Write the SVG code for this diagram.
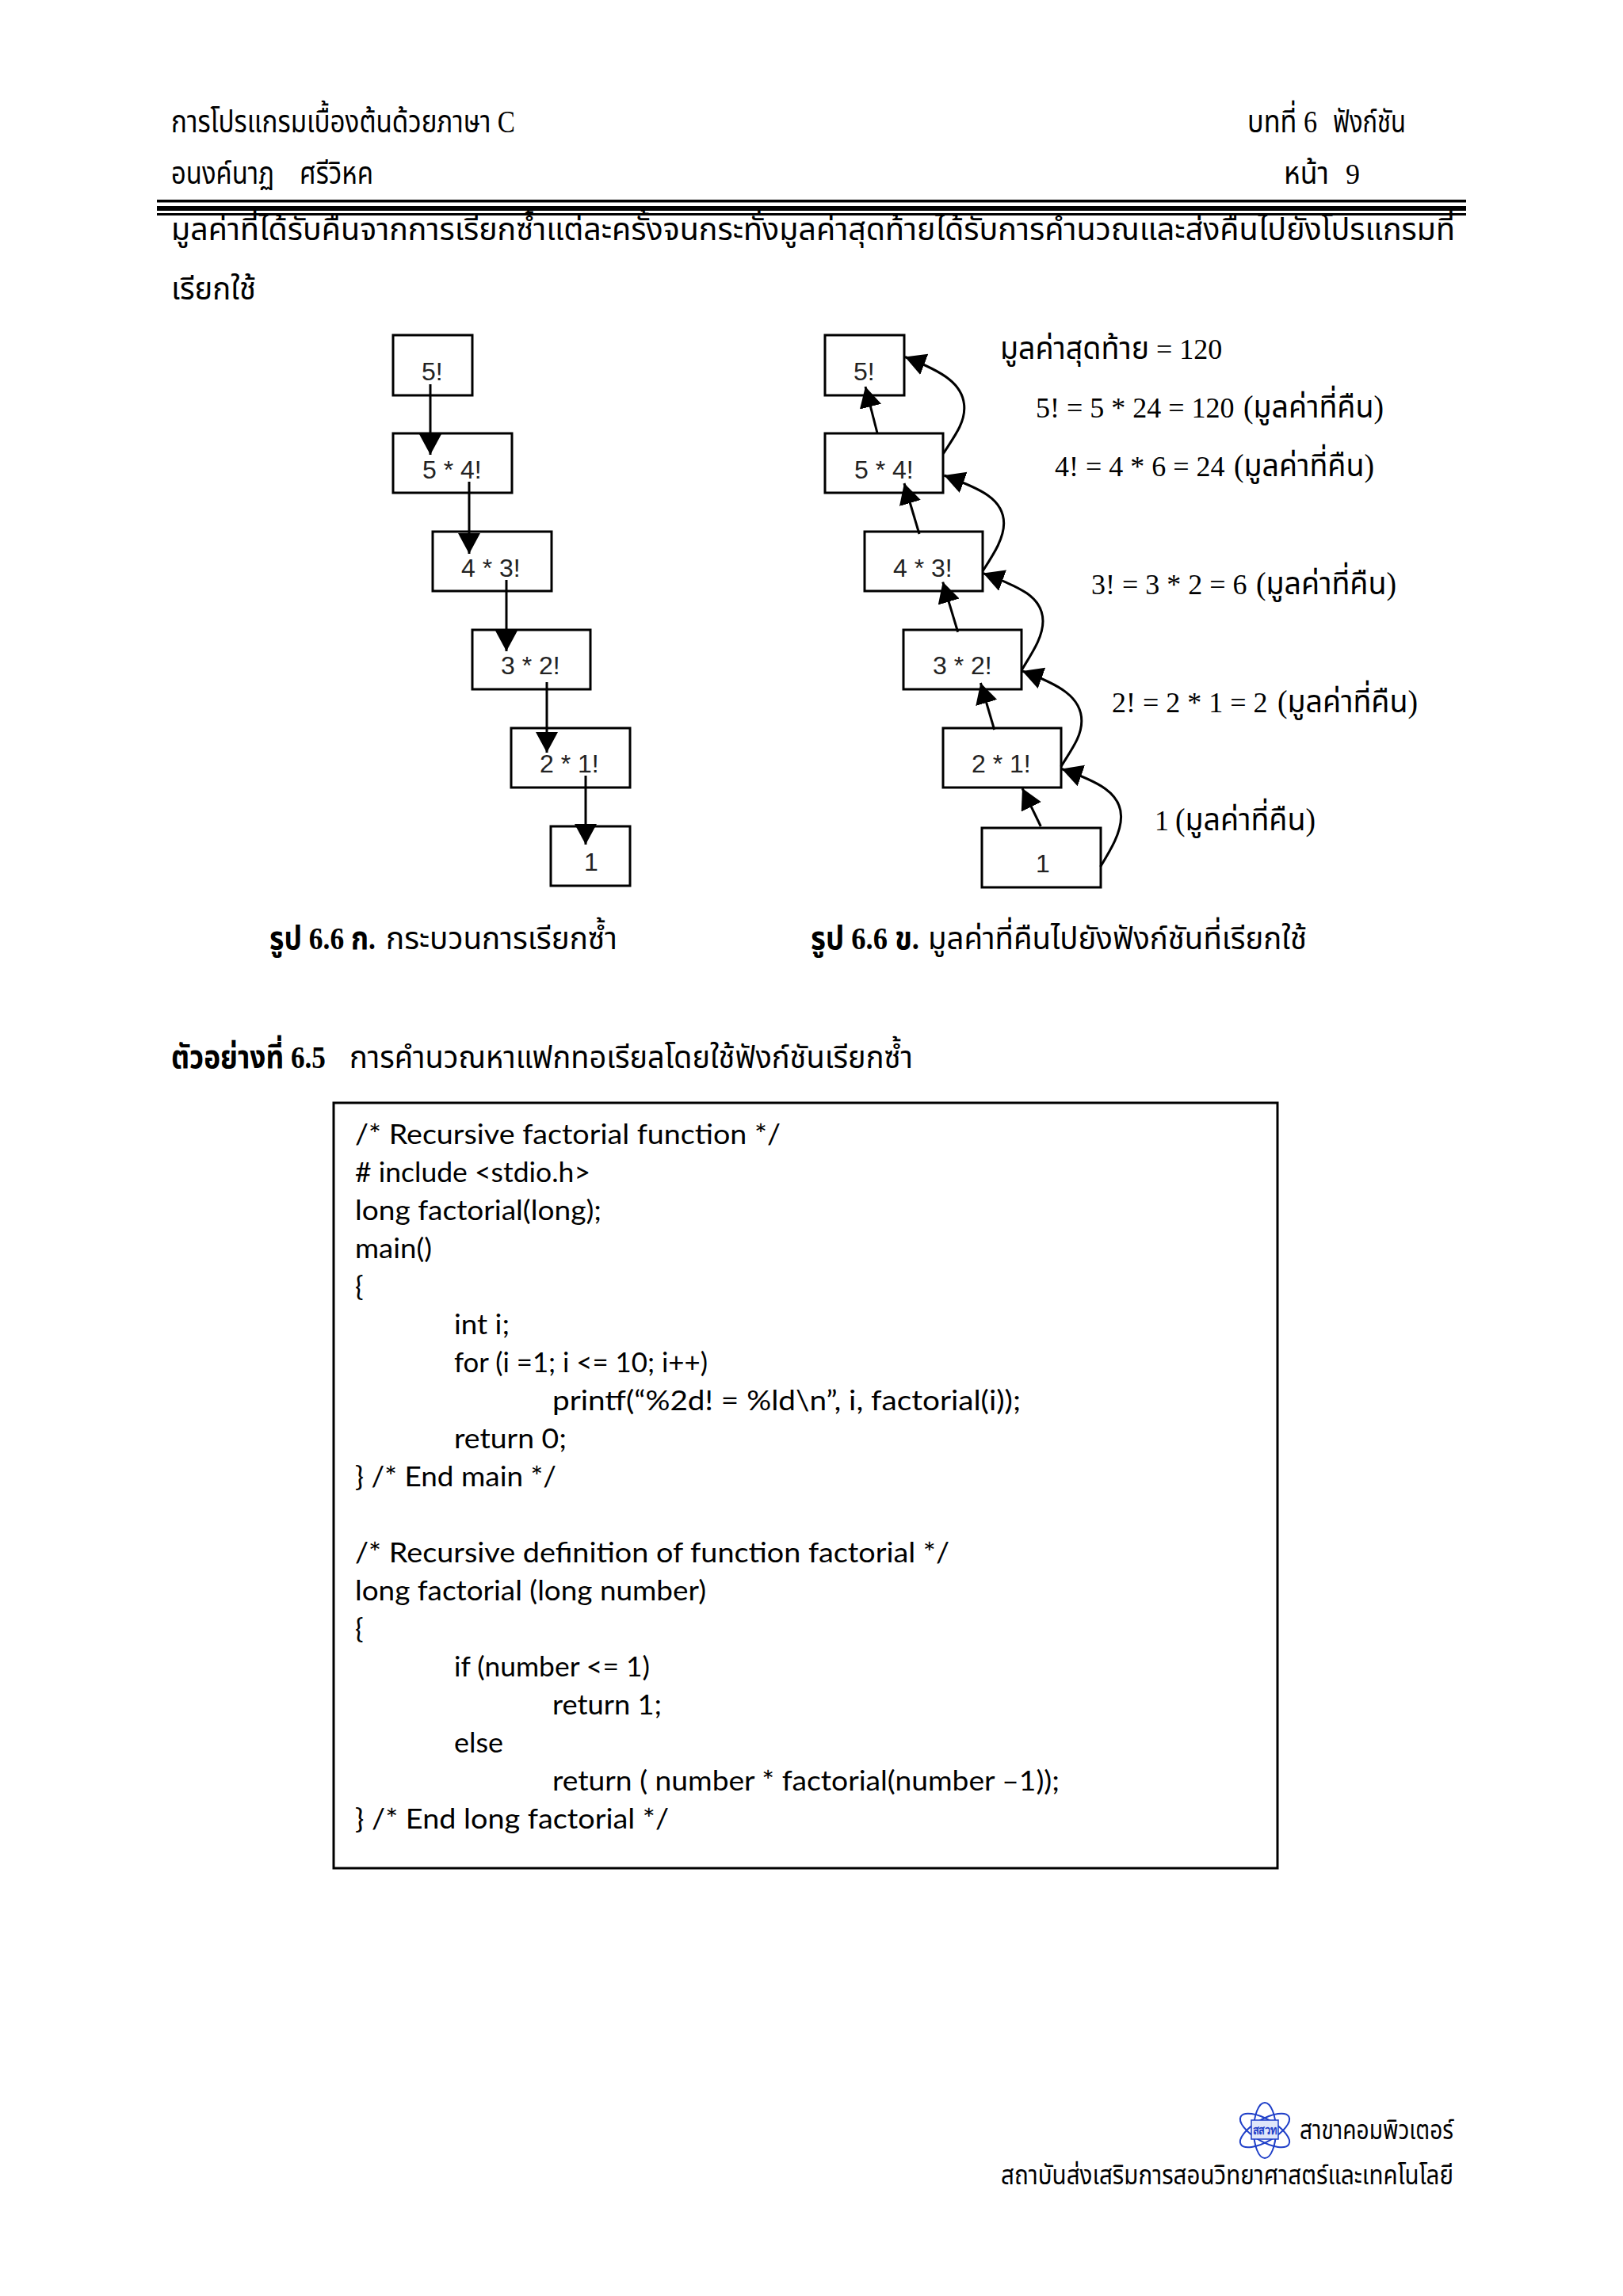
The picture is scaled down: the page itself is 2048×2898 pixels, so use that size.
<svg xmlns="http://www.w3.org/2000/svg" width="2048" height="2898" viewBox="0 0 2048 2898">
<style>
.th{font-family:"Liberation Serif","Noto Sans Thai","Noto Serif Thai","Noto Sans CJK SC",serif;font-size:40px;fill:#000}
.b{font-weight:bold}
.lt{font-size:36px}
.lb{font-family:"Liberation Sans","Noto Sans",sans-serif;font-size:32px;fill:#222}
.code{font-family:Lato,"Open Sans",sans-serif;font-size:35px;fill:#000}
.box{fill:none;stroke:#000;stroke-width:3}
.cn{fill:none;stroke:#000;stroke-width:3;marker-end:url(#ah)}
.orb{fill:none;stroke:#1f3fc8;stroke-width:2}
</style>
<defs><marker id="ah" markerUnits="userSpaceOnUse" markerWidth="30" markerHeight="30" refX="26" refY="14" orient="auto"><path d="M0 0L26 14L0 28Z" fill="#000"/></marker></defs>
<rect width="2048" height="2898" fill="#fff"/>
<g id="header">
<text class="th" x="216" y="167" textLength="434" lengthAdjust="spacingAndGlyphs">การโปรแกรมเบื้องต้นด้วยภาษา C</text>
<text class="th" y="167"><tspan x="1574" textLength="88" lengthAdjust="spacingAndGlyphs">บทที่ 6</tspan> <tspan x="1682" textLength="92" lengthAdjust="spacingAndGlyphs">ฟังก์ชัน</tspan></text>
<text class="th" y="232"><tspan x="216" textLength="130" lengthAdjust="spacingAndGlyphs">อนงค์นาฏ</tspan> <tspan x="378" textLength="93" lengthAdjust="spacingAndGlyphs">ศรีวิหค</tspan></text>
<text class="th" y="232"><tspan x="1620" textLength="57" lengthAdjust="spacingAndGlyphs">หน้า</tspan> <tspan x="1698" class="lt">9</tspan></text>
<rect x="198" y="252" width="1652" height="3.5"/><rect x="198" y="260" width="1652" height="6"/><rect x="198" y="269" width="1652" height="3"/>
</g>
<g id="body">
<text class="th" x="216" y="303" textLength="1620" lengthAdjust="spacingAndGlyphs">มูลค่าที่ได้รับคืนจากการเรียกซ้ำแต่ละครั้งจนกระทั่งมูลค่าสุดท้ายได้รับการคำนวณและส่งคืนไปยังโปรแกรมที่</text>
<text class="th" x="216" y="378" textLength="107" lengthAdjust="spacingAndGlyphs">เรียกใช้</text>
</g>
<g id="a1"><rect class="box" x="496" y="423" width="100" height="76"/><text class="lb" x="532" y="480">5!</text></g>
<g id="a2"><rect class="box" x="496" y="547" width="150" height="75"/><text class="lb" x="533" y="604">5 * 4!</text></g>
<g id="a3"><rect class="box" x="546" y="671" width="150" height="75"/><text class="lb" x="582" y="728">4 * 3!</text></g>
<g id="a4"><rect class="box" x="596" y="795" width="149" height="75"/><text class="lb" x="632" y="851">3 * 2!</text></g>
<g id="a5"><rect class="box" x="645" y="919" width="150" height="75"/><text class="lb" x="681" y="975">2 * 1!</text></g>
<g id="a6"><rect class="box" x="695" y="1043" width="100" height="75"/><text class="lb" x="737" y="1099">1</text></g>
<g id="b1"><rect class="box" x="1041" y="423" width="100" height="76"/><text class="lb" x="1077" y="480">5!</text></g>
<g id="b2"><rect class="box" x="1041" y="547" width="149" height="75"/><text class="lb" x="1078" y="604">5 * 4!</text></g>
<g id="b3"><rect class="box" x="1091" y="671" width="149" height="75"/><text class="lb" x="1127" y="728">4 * 3!</text></g>
<g id="b4"><rect class="box" x="1140" y="795" width="149" height="75"/><text class="lb" x="1177" y="851">3 * 2!</text></g>
<g id="b5"><rect class="box" x="1190" y="919" width="149" height="75"/><text class="lb" x="1226" y="975">2 * 1!</text></g>
<g id="b6"><rect class="box" x="1239" y="1045" width="150" height="75"/><text class="lb" x="1307" y="1101">1</text></g>
<g id="connectors">
<path class="cn" d="M543 485V574"/><path class="cn" d="M592 608V699"/><path class="cn" d="M639 732V822"/><path class="cn" d="M690 861V950"/><path class="cn" d="M739 979V1066"/>
<path class="cn" d="M1107 546.5L1092 488"/><path class="cn" d="M1160 674L1141 610"/><path class="cn" d="M1208.7 797.7L1189.7 734.6"/><path class="cn" d="M1254.7 921L1237.4 862"/><path class="cn" d="M1313.3 1043L1290 995"/>
<path class="cn" d="M1190.2 572.8C1204 551 1216.8 535 1216.8 515.2C1216.8 485 1190 469 1142 450.5"/>
<path class="cn" d="M1240 721C1254 699 1266.7 680 1266.7 660.6C1266.7 630 1238 617 1191.3 600"/>
<path class="cn" d="M1289.4 845.4C1303 823 1316 804 1316 784C1316 754 1288 741 1240.7 723.6"/>
<path class="cn" d="M1338.8 967.7C1352 946 1364.8 930 1364.8 910C1364.8 880 1337 864 1290 847"/>
<path class="cn" d="M1388.6 1094C1402 1072 1414.6 1051 1414.6 1030.8C1414.6 1001 1387 987 1339.8 970.5"/>
</g>
<g id="labels">
<text class="th" y="453"><tspan x="1262" textLength="188" lengthAdjust="spacingAndGlyphs">มูลค่าสุดท้าย</tspan> <tspan class="lt" x="1459">= 120</tspan></text>
<text class="th" y="527"><tspan class="lt" x="1307">5! = 5 * 24 = 120</tspan> <tspan x="1569" textLength="177" lengthAdjust="spacingAndGlyphs">(มูลค่าที่คืน)</tspan></text>
<text class="th" y="601"><tspan class="lt" x="1331">4! = 4 * 6 = 24</tspan> <tspan x="1557" textLength="177" lengthAdjust="spacingAndGlyphs">(มูลค่าที่คืน)</tspan></text>
<text class="th" y="750"><tspan class="lt" x="1377">3! = 3 * 2 = 6</tspan> <tspan x="1585" textLength="177" lengthAdjust="spacingAndGlyphs">(มูลค่าที่คืน)</tspan></text>
<text class="th" y="899"><tspan class="lt" x="1403">2! = 2 * 1 = 2</tspan> <tspan x="1612" textLength="177" lengthAdjust="spacingAndGlyphs">(มูลค่าที่คืน)</tspan></text>
<text class="th" y="1048"><tspan class="lt" x="1457">1</tspan> <tspan x="1483" textLength="177" lengthAdjust="spacingAndGlyphs">(มูลค่าที่คืน)</tspan></text>
</g>
<g id="captions">
<text class="th b" x="340" y="1198" textLength="134" lengthAdjust="spacingAndGlyphs">รูป 6.6 ก.</text>
<text class="th" x="487" y="1198" textLength="292" lengthAdjust="spacingAndGlyphs">กระบวนการเรียกซ้ำ</text>
<text class="th b" x="1023" y="1198" textLength="137" lengthAdjust="spacingAndGlyphs">รูป 6.6 ข.</text>
<text class="th" x="1171" y="1198" textLength="478" lengthAdjust="spacingAndGlyphs">มูลค่าที่คืนไปยังฟังก์ชันที่เรียกใช้</text>
<text class="th b" x="216" y="1348" textLength="195" lengthAdjust="spacingAndGlyphs">ตัวอย่างที่ 6.5</text>
<text class="th" x="441" y="1348" textLength="711" lengthAdjust="spacingAndGlyphs">การคำนวณหาแฟกทอเรียลโดยใช้ฟังก์ชันเรียกซ้ำ</text>
</g>
<g id="code">
<rect class="box" x="421" y="1392" width="1191" height="966"/>
<text class="code" x="448" y="1444" textLength="537" lengthAdjust="spacingAndGlyphs">/* Recursive factorial function */</text>
<text class="code" x="448" y="1492" textLength="297" lengthAdjust="spacingAndGlyphs"># include &lt;stdio.h&gt;</text>
<text class="code" x="448" y="1540" textLength="311" lengthAdjust="spacingAndGlyphs">long factorial(long);</text>
<text class="code" x="448" y="1588" textLength="97" lengthAdjust="spacingAndGlyphs">main()</text>
<text class="code" x="448" y="1636">{</text>
<text class="code" x="573" y="1684" textLength="70" lengthAdjust="spacingAndGlyphs">int i;</text>
<text class="code" x="573" y="1732" textLength="320" lengthAdjust="spacingAndGlyphs">for (i =1; i &lt;= 10; i++)</text>
<text class="code" x="697" y="1780" textLength="591" lengthAdjust="spacingAndGlyphs">printf(“%2d! = %ld\n”, i, factorial(i));</text>
<text class="code" x="573" y="1828" textLength="142" lengthAdjust="spacingAndGlyphs">return 0;</text>
<text class="code" x="448" y="1876" textLength="254" lengthAdjust="spacingAndGlyphs">} /* End main */</text>
<text class="code" x="448" y="1972" textLength="750" lengthAdjust="spacingAndGlyphs">/* Recursive definition of function factorial */</text>
<text class="code" x="448" y="2020" textLength="443" lengthAdjust="spacingAndGlyphs">long factorial (long number)</text>
<text class="code" x="448" y="2068">{</text>
<text class="code" x="573" y="2116" textLength="247" lengthAdjust="spacingAndGlyphs">if (number &lt;= 1)</text>
<text class="code" x="697" y="2164" textLength="138" lengthAdjust="spacingAndGlyphs">return 1;</text>
<text class="code" x="573" y="2212" textLength="62" lengthAdjust="spacingAndGlyphs">else</text>
<text class="code" x="697" y="2260" textLength="640" lengthAdjust="spacingAndGlyphs">return ( number * factorial(number –1));</text>
<text class="code" x="448" y="2308" textLength="396" lengthAdjust="spacingAndGlyphs">} /* End long factorial */</text>
</g>
<g id="logo">
<ellipse class="orb" cx="1596" cy="2689" rx="14" ry="35"/>
<ellipse class="orb" cx="1596" cy="2689" rx="14" ry="35" transform="rotate(60 1596 2689)"/>
<ellipse class="orb" cx="1596" cy="2689" rx="14" ry="35" transform="rotate(-60 1596 2689)"/>
<rect x="1579" y="2676" width="34" height="24" fill="#dfe6fa" stroke="#1f3fc8" stroke-width="1.5"/>
<text x="1596" y="2694" text-anchor="middle" textLength="31" lengthAdjust="spacingAndGlyphs" style="font-family:'Liberation Sans','Noto Sans CJK SC',sans-serif;font-size:15px;font-weight:bold;fill:#1f3fc8">สสวท</text>
<text class="th" x="1640" y="2700" textLength="194" lengthAdjust="spacingAndGlyphs" style="font-size:34px">สาขาคอมพิวเตอร์</text>
<text class="th" x="1263" y="2757" textLength="571" lengthAdjust="spacingAndGlyphs" style="font-size:34px">สถาบันส่งเสริมการสอนวิทยาศาสตร์และเทคโนโลยี</text>
</g>
</svg>
